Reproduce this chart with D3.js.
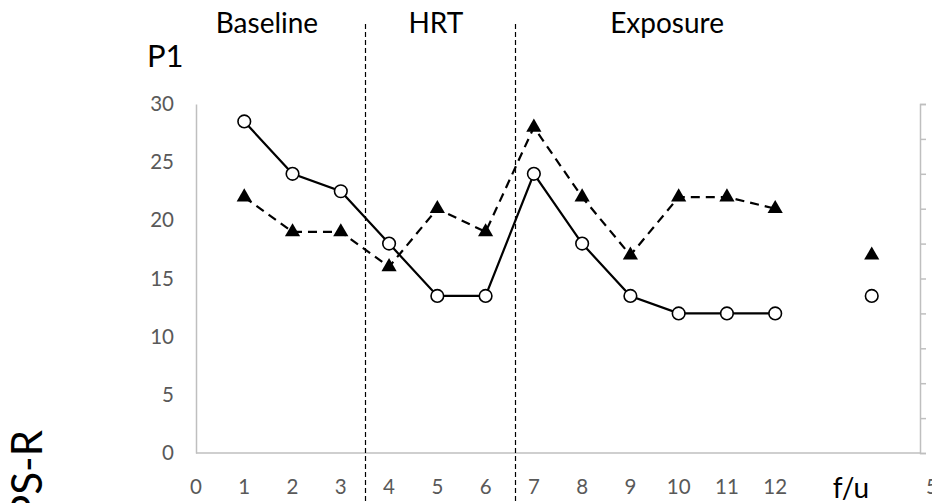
<!DOCTYPE html>
<html>
<head>
<meta charset="utf-8">
<script src="https://cdn.jsdelivr.net/npm/d3@7"></script>
<style>
  body { margin: 0; background: #fff; }
  svg { display: block; font-family: Lato, "Open Sans", sans-serif; }
</style>
</head>
<body>
<div id="chart"></div>
<script>
// session numbers (x) and scores
const sessions = [1, 2, 3, 4, 5, 6, 7, 8, 9, 10, 11, 12];
const circleScores = [28.5, 24, 22.5, 18, 13.5, 13.5, 24, 18, 13.5, 12, 12, 12];
const triangleScores = [22, 19, 19, 16, 21, 19, 28, 22, 17, 22, 22, 21];
// follow-up point
const followUpX = 14;
const followUpCircle = 13.5;
const followUpTriangle = 17;
// phases
const phaseNames = ["Baseline", "HRT", "Exposure"];
const phaseLabelX = [1.47, 4.97, 9.76];
const phaseBreaks = [3.5, 6.61];
const xTicks = [0, 1, 2, 3, 4, 5, 6, 7, 8, 9, 10, 11, 12];
const yTicks = [0, 5, 10, 15, 20, 25, 30];

const width = 932, height = 503;
const svg = d3.select("#chart").append("svg")
    .attr("width", width)
    .attr("height", height);

// scales
const x = d3.scaleLinear().domain([0, 15]).range([196, 920]);
const y = d3.scaleLinear().domain([0, 30]).range([453, 104]);
const yRight = d3.scaleLinear().domain([0, 10]).range([453, 104]);

const axisColor = "#bfbfbf";
const tickColor = "#595959";

// left axis
const yAxis = svg.append("g")
    .attr("transform", `translate(${x(0)},0)`)
    .call(d3.axisLeft(y).tickValues(yTicks).tickSize(0).tickPadding(22));
yAxis.select(".domain").attr("stroke", axisColor).attr("stroke-width", 1.5);
yAxis.selectAll("text")
    .attr("fill", tickColor)
    .style("font-size", "20.5px")
    .style("font-family", "Lato, sans-serif");

// bottom axis line
svg.append("line")
    .attr("x1", x(0)).attr("x2", x(15))
    .attr("y1", y(0)).attr("y2", y(0))
    .attr("stroke", axisColor).attr("stroke-width", 1.5);

// x tick labels
svg.append("g").selectAll("text")
    .data(xTicks)
    .enter()
    .append("text")
    .attr("x", d => x(d))
    .attr("y", 494)
    .attr("text-anchor", "middle")
    .attr("fill", tickColor)
    .style("font-size", "20.5px")
    .text(d => d);

// cut off tick label at right edge
svg.append("text")
    .attr("x", 926)
    .attr("y", 494)
    .attr("fill", tickColor)
    .style("font-size", "20.5px")
    .text("5");

// right axis (from neighbouring chart)
const rAxis = svg.append("g")
    .attr("transform", `translate(${x(15)},0)`)
    .call(d3.axisRight(yRight).ticks(10).tickSize(6).tickFormat(""));
rAxis.select(".domain").attr("stroke", axisColor).attr("stroke-width", 1.5);
rAxis.selectAll(".tick line").attr("stroke", axisColor).attr("stroke-width", 1.5);

// phase separators
svg.append("g").selectAll("line")
    .data(phaseBreaks)
    .enter()
    .append("line")
    .attr("x1", d => Math.round(x(d)) + 0.5).attr("x2", d => Math.round(x(d)) + 0.5)
    .attr("y1", 24).attr("y2", height)
    .attr("stroke", "#000")
    .attr("stroke-width", 1.2)
    .attr("stroke-dasharray", "5,3");

// phase labels
svg.append("g").selectAll("text")
    .data(phaseNames)
    .enter()
    .append("text")
    .attr("x", (d, i) => x(phaseLabelX[i]))
    .attr("y", 33)
    .attr("text-anchor", "middle")
    .attr("fill", "#000")
    .style("font-size", "28px")
    .text(d => d);

// P1 label
svg.append("text")
    .attr("x", 147).attr("y", 67)
    .attr("fill", "#000")
    .style("font-size", "31px")
    .text("P1");

// f/u label
svg.append("text")
    .attr("x", 851).attr("y", 498)
    .attr("text-anchor", "middle")
    .attr("fill", "#000")
    .style("font-size", "28px")
    .text("f/u");

// y axis title (cut off)
svg.append("text")
    .attr("transform", "translate(42,430) rotate(-90)")
    .attr("text-anchor", "end")
    .attr("fill", "#000")
    .style("font-size", "42px")
    .text("PS-R");

// lines
const line = d3.line()
    .x(d => x(d[0]))
    .y(d => y(d[1]));

const triData = sessions.map((s, i) => [s, triangleScores[i]]);
const circData = sessions.map((s, i) => [s, circleScores[i]]);

svg.append("path")
    .datum(triData)
    .attr("d", line)
    .attr("fill", "none")
    .attr("stroke", "#000")
    .attr("stroke-width", 2.2)
    .attr("stroke-dasharray", "9,6");

svg.append("path")
    .datum(circData)
    .attr("d", line)
    .attr("fill", "none")
    .attr("stroke", "#000")
    .attr("stroke-width", 2.2);

// markers
const tri = d3.symbol().type(d3.symbolTriangle).size(100);
svg.append("g").selectAll("path")
    .data(triData.concat([[followUpX, followUpTriangle]]))
    .enter()
    .append("path")
    .attr("d", tri)
    .attr("transform", d => `translate(${x(d[0])},${y(d[1])})`)
    .attr("fill", "#000");

svg.append("g").selectAll("circle")
    .data(circData.concat([[followUpX, followUpCircle]]))
    .enter()
    .append("circle")
    .attr("cx", d => x(d[0]))
    .attr("cy", d => y(d[1]))
    .attr("r", 6.3)
    .attr("fill", "#fff")
    .attr("stroke", "#000")
    .attr("stroke-width", 1.6);
</script>
</body>
</html>
